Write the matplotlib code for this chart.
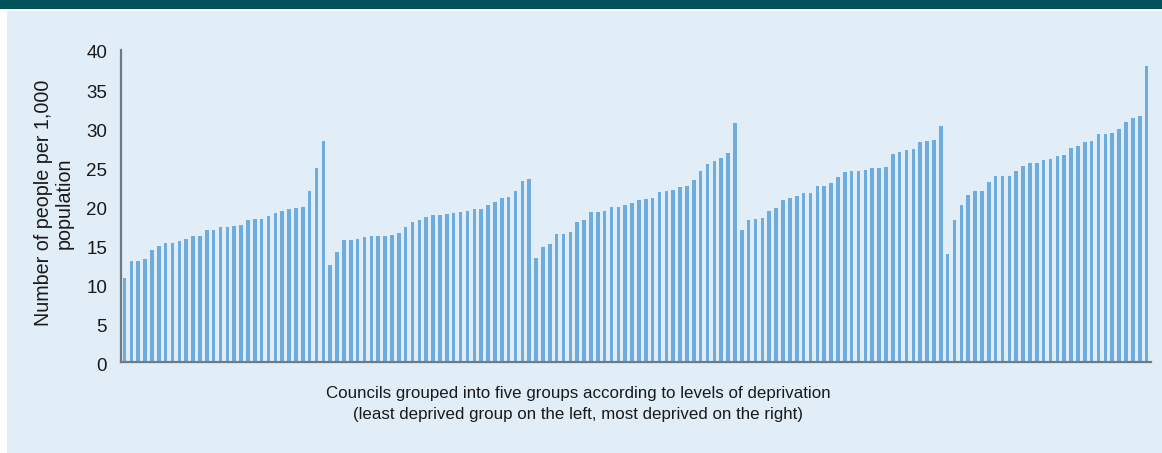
import matplotlib
matplotlib.use("Agg")
import matplotlib.pyplot as plt
from matplotlib.patches import Rectangle
from matplotlib.transforms import ScaledTranslation
import numpy as np

# Rates per 1,000 population, councils sorted within each deprivation group
group1 = [10.85, 12.95, 13.0, 13.25, 14.44, 14.87, 15.26, 15.26, 15.6, 15.77,
          16.15, 16.15, 16.97, 17.0, 17.3, 17.3, 17.44, 17.6, 18.2, 18.3,
          18.33, 18.76, 19.1, 19.36, 19.6, 19.74, 19.87, 21.9, 24.9, 28.33]
group2 = [12.44, 14.15, 15.64, 15.68, 15.77, 16.03, 16.15, 16.15, 16.24, 16.32,
          16.5, 17.35, 18.03, 18.29, 18.55, 18.85, 18.93, 19.02, 19.1, 19.23,
          19.32, 19.62, 19.62, 20.09, 20.56, 21.03, 21.2, 21.88, 23.25, 23.46]
group3 = [13.33, 14.74, 15.21, 16.41, 16.41, 16.75, 17.95, 18.2, 19.19, 19.23,
          19.4, 19.87, 19.87, 20.13, 20.34, 20.73, 20.9, 20.98, 21.75, 21.92,
          22.09, 22.39, 22.56, 23.38, 24.44, 25.34, 25.77, 26.11, 26.75, 30.6]
group4 = [17.0, 18.2, 18.38, 18.46, 19.36, 19.74, 20.77, 21.03, 21.28, 21.67,
          21.71, 22.56, 22.56, 22.91, 23.68, 24.36, 24.49, 24.49, 24.62, 24.87,
          24.87, 25.04, 26.62, 26.88, 27.14, 27.35, 28.21, 28.33, 28.5, 30.26]
group5 = [13.85, 18.2, 20.13, 21.37, 21.88, 21.88, 23.08, 23.85, 23.85, 23.85,
          24.49, 25.17, 25.47, 25.56, 25.85, 26.07, 26.45, 26.54, 27.44, 27.69,
          28.25, 28.38, 29.23, 29.23, 29.32, 29.87, 30.77, 31.24, 31.54, 37.99]

y_ticks = [0, 5, 10, 15, 20, 25, 30, 35, 40]
y_label = "Number of people per 1,000\npopulation"
x_label = ("Councils grouped into five groups according to levels of deprivation\n"
           "(least deprived group on the left, most deprived on the right)")

values = group1 + group2 + group3 + group4 + group5
positions = np.arange(len(values))

plt.rcParams["font.family"] = ["Liberation Sans", "DejaVu Sans"]

W, H = 1162, 453
fig = plt.figure(figsize=(W / 100, H / 100), dpi=100)
fig.patch.set_facecolor("white")

# background panel and top band
fig.add_artist(Rectangle((7 / W, 0), 1 - 7 / W, 1 - 11 / H,
                         transform=fig.transFigure, facecolor="#E1EDF7",
                         edgecolor="none", zorder=0))
fig.add_artist(Rectangle((0, 1 - 9 / H), 1, 9 / H,
                         transform=fig.transFigure, facecolor="#01525A",
                         edgecolor="none", zorder=0))

left, right, top, bottom = 121, 1150.7, 50, 362.3
ax = fig.add_axes([left / W, 1 - bottom / H, (right - left) / W, (bottom - top) / H])
ax.set_facecolor("none")

ax.bar(positions, values, width=0.52, color="#6FACDE", edgecolor="none", zorder=2)

ax.set_xlim(-0.5, 149.6)
ax.set_ylim(0, 40)
ax.set_yticks(y_ticks)
ax.set_yticklabels([str(t) for t in y_ticks], fontsize=13.5, color="#1a1a1a")
ax.set_xticks([])
ax.tick_params(axis="y", length=0, pad=10)
offset = ScaledTranslation(0, -2 / 100, fig.dpi_scale_trans)
for lbl in ax.get_yticklabels():
    lbl.set_transform(lbl.get_transform() + offset)

for s in ["top", "right"]:
    ax.spines[s].set_visible(False)
for s in ["left", "bottom"]:
    ax.spines[s].set_color("#6E7B80")
    ax.spines[s].set_linewidth(1.6)

fig.text(578 / W, 1 - 404 / H, x_label, ha="center", va="center",
         fontsize=12.2, color="#1a1a1a", linespacing=1.58)
fig.text(54 / W, 1 - 203 / H, y_label, ha="center", va="center", rotation=90,
         fontsize=14.2, color="#1a1a1a", linespacing=1.15, multialignment="center")

fig.savefig("out.png", dpi=100)
